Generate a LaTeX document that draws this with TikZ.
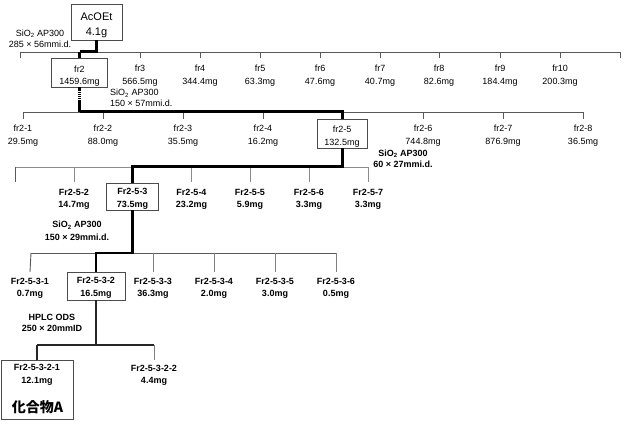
\documentclass[tikz,border=0pt]{standalone}
\usepackage{fontspec}
\setmainfont{Liberation Sans}
\newfontfamily\cjkfont{Noto Sans CJK JP}
\newcommand\twol[2]{\begin{tabular}{@{}c@{}}#1\\#2\end{tabular}}
\tikzset{
  thk/.style={line width=3pt, black},
  thkd/.style={line width=3pt, black, dash pattern=on 1.6pt off 0.5pt},
  thn/.style={line width=0.9pt, black!65},
  thnb/.style={line width=1.1pt, black!85},
  bx/.style={draw=black!70, line width=0.8pt, inner sep=0pt},
  lbl/.style={inner xsep=0pt, inner ysep=0pt, font=\fontsize{9}{12.5}\selectfont},
  blbl/.style={inner xsep=0pt, inner ysep=0pt, font=\fontsize{9}{12.5}\selectfont\bfseries},
  flab/.style={lbl, anchor=north, inner ysep=#1},
  bflab/.style={blbl, anchor=north, inner ysep=#1},
}
\begin{document}
\begin{tikzpicture}[x=1pt,y=-1pt]
\useasboundingbox (0,0) rectangle (624,427);
% ---------- level 0
\node[bx, minimum width=51pt, minimum height=36pt] (acoet) at (96.5,22) {};
\node[lbl, font=\fontsize{11}{15}\selectfont] (acoett) at (96.5,25) {\twol{AcOEt}{4.1g}};
\node[lbl, font=\fontsize{9}{11}\selectfont] (sio1) at (40,40) {\twol{SiO\textsubscript{2} AP300}{285 × 56mmi.d.}};
% ---------- level 1
\coordinate (b1L) at (20,52);
\coordinate (b1R) at (620,52);
\node[bx, minimum width=56pt, minimum height=29pt] (fr2) at (79.5,72.5) {};
\node[lbl] (fr2t) at (79.5,76) {\twol{fr2}{1459.6mg}};
\node[flab=5pt] (fr3) at (140,58) {\twol{fr3}{566.5mg}};
\node[flab=5pt] (fr4) at (200,58) {\twol{fr4}{344.4mg}};
\node[flab=5pt] (fr5) at (260,58) {\twol{fr5}{63.3mg}};
\node[flab=5pt] (fr6) at (320,58) {\twol{fr6}{47.6mg}};
\node[flab=5pt] (fr7) at (380,58) {\twol{fr7}{40.7mg}};
\node[flab=5pt] (fr8) at (439,58) {\twol{fr8}{82.6mg}};
\node[flab=5pt] (fr9) at (500,58) {\twol{fr9}{184.4mg}};
\node[flab=5pt] (fr10) at (560,58) {\twol{fr10}{200.3mg}};
\node[lbl, anchor=west, font=\fontsize{9}{11}\selectfont] (sio2) at (110,99.3)
  {\begin{tabular}{@{}l@{}}SiO\textsubscript{2} AP300\\150 × 57mmi.d.\end{tabular}};
% ---------- level 2
\coordinate (b2L) at (23,112);
\coordinate (b2R) at (583,112);
\node[flab=4pt] (fr21) at (23,119) {\twol{fr2-1}{29.5mg}};
\node[flab=4pt] (fr22) at (103,119) {\twol{fr2-2}{88.0mg}};
\node[flab=4pt] (fr23) at (183,119) {\twol{fr2-3}{35.5mg}};
\node[flab=4pt] (fr24) at (263,119) {\twol{fr2-4}{16.2mg}};
\node[bx, minimum width=50pt, minimum height=29pt] (fr25) at (342,133.5) {};
\node[lbl] (fr25t) at (342,136.7) {\twol{fr2-5}{132.5mg}};
\node[flab=4pt] (fr26) at (423,119) {\twol{fr2-6}{744.8mg}};
\node[flab=4pt] (fr27) at (503,119) {\twol{fr2-7}{876.9mg}};
\node[flab=4pt] (fr28) at (583,119) {\twol{fr2-8}{36.5mg}};
\node[blbl, font=\fontsize{9}{11}\selectfont\bfseries] (sio3) at (403,160) {\twol{SiO\textsubscript{2} AP300}{60 × 27mmi.d.}};
% ---------- level 3
\coordinate (b3L) at (15,167);
\coordinate (b3R) at (368,167);
\node[bflab=4.5pt] (f252) at (74,182) {\twol{Fr2-5-2}{14.7mg}};
\node[bx, minimum width=52pt, minimum height=27pt] (f253) at (132.5,196.5) {};
\node[blbl] (f253t) at (132.5,198.75) {\twol{Fr2-5-3}{73.5mg}};
\node[bflab=4.5pt] (f254) at (191.5,182) {\twol{Fr2-5-4}{23.2mg}};
\node[bflab=4.5pt] (f255) at (250,182) {\twol{Fr2-5-5}{5.9mg}};
\node[bflab=4.5pt] (f256) at (309,182) {\twol{Fr2-5-6}{3.3mg}};
\node[bflab=4.5pt] (f257) at (368,182) {\twol{Fr2-5-7}{3.3mg}};
\node[blbl] (sio4) at (77,231.75) {\twol{SiO\textsubscript{2} AP300}{150 × 29mmi.d.}};
% ---------- level 4
\coordinate (b4L) at (31,253);
\coordinate (b4R) at (336,253);
\node[bflab=3.5pt] (f2531) at (30,272) {\twol{Fr2-5-3-1}{0.7mg}};
\node[bx, minimum width=58pt, minimum height=28pt] (f2532) at (96,286) {};
\node[blbl] (f2532t) at (96,287.75) {\twol{Fr2-5-3-2}{16.5mg}};
\node[bflab=3.5pt] (f2533) at (153,272) {\twol{Fr2-5-3-3}{36.3mg}};
\node[bflab=3.5pt] (f2534) at (214,272) {\twol{Fr2-5-3-4}{2.0mg}};
\node[bflab=3.5pt] (f2535) at (275,272) {\twol{Fr2-5-3-5}{3.0mg}};
\node[bflab=3.5pt] (f2536) at (336,272) {\twol{Fr2-5-3-6}{0.5mg}};
\node[blbl, font=\fontsize{9}{11}\selectfont\bfseries] (hplc) at (52,323.5) {\twol{HPLC ODS}{250 × 20mmID}};
% ---------- level 5
\coordinate (b5L) at (37,345);
\coordinate (b5R) at (154,345);
\node[bx, minimum width=72pt, minimum height=59pt] (f25321) at (37,389.5) {};
\node[blbl] (f25321t) at (37,374.75) {\twol{Fr2-5-3-2-1}{12.1mg}};
\node[inner sep=0pt, font=\cjkfont\fontsize{14}{16}\selectfont\bfseries] (cpdA) at (37.5,407) {化合物A};
\node[bflab=2.5pt] (f25322) at (154,360) {\twol{Fr2-5-3-2-2}{4.4mg}};
% ---------- thin connectors
\draw[thn] (b1L) -- (b1R);
\draw[thn] (b1L) -- ++(0,6);
\draw[thn] (b1R) -- ++(0,6);
\foreach \n in {fr3,fr4,fr5,fr6,fr7,fr8,fr9,fr10}
  \draw[thn] (\n.north |- b1L) -- (\n.north);
\draw[thn] (b2L) -- (b2R);
\foreach \n in {fr21,fr22,fr23,fr24,fr26,fr27,fr28}
  \draw[thn] (\n.north |- b2L) -- (\n.north);
\draw[thn, black!45] (b3L) -- (b3R);
\draw[thn] (b3L) -- ++(0,15);
\foreach \n in {f252,f254,f255,f256,f257}
  \draw[thn, black!45] (\n.north |- b3L) -- (\n.north);
\draw[thn] (b4L) -- (b4R);
\draw[thn] (b4L) -- (f2531.north);
\foreach \n in {f2533,f2534,f2535,f2536}
  \draw[thn, black!50] (\n.north |- b4L) -- (\n.north);
\draw[thnb] (f2532.south) -- (f2532.south |- b5L);
\draw[thnb] (b5L) -- (b5R);
\draw[thnb] (b5L) -- (f25321.north);
\draw[thn, black!50] (b5R) -- (f25322.north);
% ---------- thick main path
\draw[thk] (acoet.south) -- (acoet.south |- b1L) -- (fr2.north |- b1L);
\draw[thkd] (fr2.north |- b1L) -- (fr2.north);
\draw[thkd] (fr2.south) -- (fr2.south |- b2L);
\draw[thk] (fr2.south |- b2L) -- (fr25.north |- b2L) -- (fr25.north);
\draw[thk] (fr25.south) -- (fr25.south |- b3L) -- (f253.north |- b3L) -- (f253.north);
\draw[line width=2.5pt] (f253.south) -- (f253.south |- b4L) -- (f2532.north |- b4L) -- (f2532.north);
\end{tikzpicture}
\end{document}
